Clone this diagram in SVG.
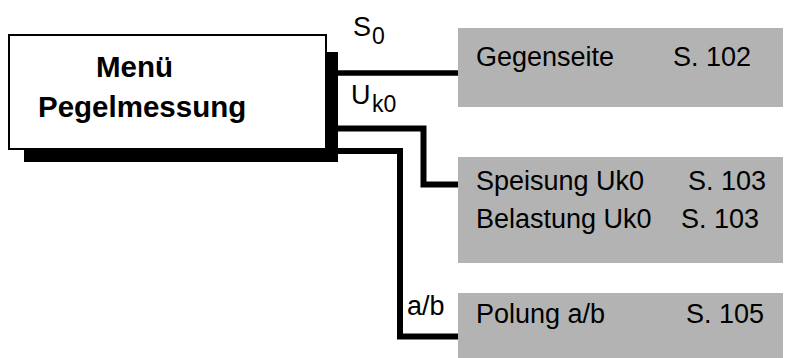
<svg xmlns="http://www.w3.org/2000/svg" width="785" height="358" viewBox="0 0 785 358">
<style>
.t{font-family:"Liberation Sans",Arial,Helvetica,sans-serif;font-size:27px;fill:#000}
.sub{font-size:23px}
.b{font-family:"Liberation Sans",Arial,Helvetica,sans-serif;font-size:29.5px;font-weight:bold;fill:#000}
.gray{fill:#b3b3b3}
.conn{fill:none;stroke:#000;stroke-width:6;stroke-linejoin:miter;stroke-linecap:butt}
</style>
<rect width="785" height="358" fill="#fff"/>
<g id="connectors">
<path class="conn" d="M327,73 H458" style="stroke-width:5.5"/>
<path class="conn" d="M327,128.5 H423.5 V184.5 H458"/>
<path class="conn" d="M327,151 H400 V336.5 H458"/>
</g>
<g id="menu">
<rect x="24" y="52" width="314" height="110" fill="#000"/>
<rect x="9" y="35" width="317" height="114" fill="#fff" stroke="#000" stroke-width="2"/>
<text class="b" x="96" y="77">Menü</text>
<text class="b" x="38" y="117">Pegelmessung</text>
</g>
<g id="label-s0">
<text class="t" x="353" y="36">S</text>
<text class="t sub" x="372" y="44">0</text>
</g>
<g id="label-uk0">
<text class="t" x="351" y="104">U</text>
<text class="t sub" x="372" y="112">k0</text>
</g>
<g id="label-ab">
<text class="t" x="407" y="315">a/b</text>
</g>
<g id="gegenseite">
<rect class="gray" x="458" y="28" width="325" height="79"/>
<text class="t" x="476" y="66">Gegenseite</text>
<text class="t" x="673" y="66">S. 102</text>
</g>
<g id="uk0">
<rect class="gray" x="458" y="157" width="325" height="106"/>
<text class="t" x="476" y="190">Speisung Uk0</text>
<text class="t" x="688" y="190">S. 103</text>
<text class="t" x="476" y="228">Belastung Uk0</text>
<text class="t" x="681" y="228">S. 103</text>
</g>
<g id="polung">
<rect class="gray" x="458" y="293" width="325" height="65"/>
<text class="t" x="476" y="323">Polung a/b</text>
<text class="t" x="686" y="323">S. 105</text>
</g>
</svg>
